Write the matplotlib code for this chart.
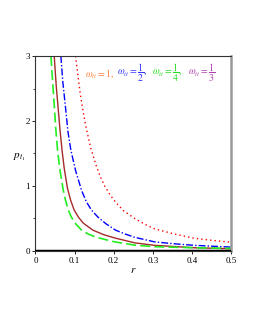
import matplotlib.pyplot as plt

plt.rcParams['font.family'] = ['Liberation Serif', 'DejaVu Serif']
plt.rcParams['mathtext.fontset'] = 'stix'

# curves: r values and p_t1 values
r_red = [0.1025, 0.109, 0.115, 0.1246, 0.1305, 0.1416, 0.156, 0.166, 0.177, 0.19,
         0.205, 0.225, 0.254, 0.28, 0.305, 0.356, 0.407, 0.458, 0.5]
p_red = [3.0, 2.68, 2.4, 2.05, 1.87, 1.58, 1.3, 1.14, 1.0, 0.87,
         0.75, 0.62, 0.5, 0.41, 0.34, 0.26, 0.195, 0.16, 0.135]

r_blue = [0.065, 0.07, 0.077, 0.083, 0.0906, 0.1025, 0.118, 0.13, 0.143, 0.16,
          0.18, 0.205, 0.23, 0.254, 0.305, 0.356, 0.407, 0.5]
p_blue = [3.0, 2.6, 2.2, 1.84, 1.55, 1.24, 0.93, 0.76, 0.63, 0.52,
          0.42, 0.32, 0.26, 0.21, 0.14, 0.11, 0.087, 0.06]

r_brown = [0.048, 0.053, 0.058, 0.063, 0.068, 0.0736, 0.082, 0.09, 0.099, 0.11,
           0.122, 0.147, 0.175, 0.203, 0.254, 0.305, 0.407, 0.5]
p_brown = [3.0, 2.55, 2.2, 1.85, 1.55, 1.27, 0.96, 0.78, 0.63, 0.52,
           0.43, 0.32, 0.25, 0.2, 0.125, 0.087, 0.05, 0.035]

r_green = [0.0395, 0.044, 0.048, 0.052, 0.0566, 0.0625, 0.071, 0.077, 0.084, 0.092,
           0.101, 0.118, 0.135, 0.156, 0.203, 0.254, 0.305, 0.407, 0.5]
p_green = [3.0, 2.6, 2.25, 1.88, 1.55, 1.25, 0.94, 0.78, 0.63, 0.52,
           0.43, 0.32, 0.26, 0.21, 0.14, 0.09, 0.066, 0.05, 0.04]

x_ticks = [0, 0.1, 0.2, 0.3, 0.4, 0.5]
x_labels = ['0', '0.1', '0.2', '0.3', '0.4', '0.5']
y_ticks = [0, 1, 2, 3]

fig = plt.figure(figsize=(2.55, 3.3), dpi=100)
ax = fig.add_axes([0.139, 0.2394, 0.767, 0.5909])

ax.plot(r_red, p_red, color='red', linestyle=(0, (1, 2.2)), linewidth=1.0)
ax.plot(r_blue, p_blue, color='blue', linestyle=(0, (5, 1.5, 1, 1.5)), linewidth=1.0)
ax.plot(r_brown, p_brown, color='#a52a2a', linestyle='-', linewidth=1.0)
ax.plot(r_green, p_green, color='#22ee22', linestyle=(0, (6, 2.5)), linewidth=1.2)

ax.axhline(0, color='black', linewidth=2.5, zorder=5)

ax.set_xlim(0, 0.5)
ax.set_ylim(0, 3)
ax.set_xticks(x_ticks)
ax.set_xticklabels(x_labels)
ax.set_yticks(y_ticks)
ax.set_yticks([0.5, 1.5, 2.5], minor=True)
ax.tick_params(labelsize=6.5, length=2, width=0.6, pad=2)
ax.tick_params(which='minor', length=1.5, width=0.5)

for side in ['left', 'top', 'bottom']:
    ax.spines[side].set_linewidth(0.8)
    ax.spines[side].set_color('#333333')
ax.spines['right'].set_color('#999999')
ax.spines['right'].set_linewidth(1.8)

ax.set_xlabel(r'$r$', fontsize=8, labelpad=1)
ax.set_ylabel(r'$p_{t_1}$', fontsize=8, rotation=0)
ax.yaxis.set_label_coords(-0.08, 0.45)

# legend text in coloured pieces
fs = 7
fig.text(0.333, 0.778, r'$\omega_{tt}=1,$', color='#ff8040', fontsize=fs, va='center')
fig.text(0.458, 0.778, r'$\omega_{tt}=\dfrac{1}{2},$', color='#3333ff', fontsize=fs, va='center')
fig.text(0.598, 0.778, r'$\omega_{tt}=\dfrac{1}{4},$', color='#22dd22', fontsize=fs, va='center')
fig.text(0.737, 0.778, r'$\omega_{tt}=\dfrac{1}{3}$', color='#b040b0', fontsize=fs, va='center')

fig.savefig('out.png', dpi=100)
